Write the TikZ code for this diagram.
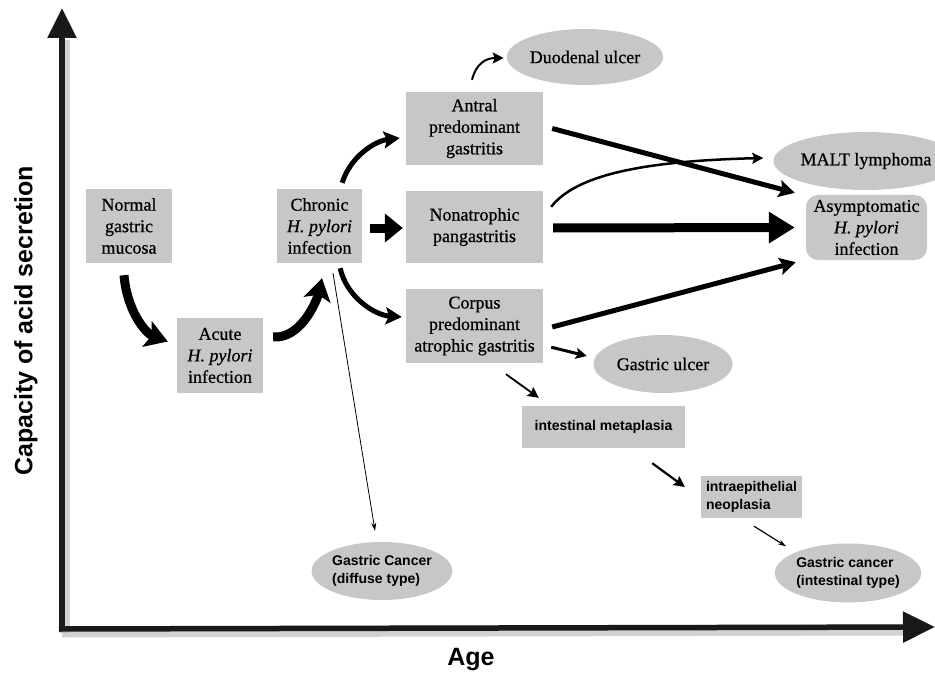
\documentclass[tikz,border=0pt]{standalone}
\usepackage{fontspec}
\setmainfont{Liberation Serif}[FakeBold=0.6]
\setsansfont{Liberation Sans}
\usetikzlibrary{arrows.meta,calc,shapes.geometric}
\definecolor{boxgray}{gray}{0.78}
\tikzset{
  sbox/.style={fill=boxgray, draw=none, align=center, inner sep=0pt,
    font=\fontsize{18}{21.5}\selectfont},
  sell/.style={ellipse, fill=boxgray, draw=none, align=center, inner sep=0pt,
    font=\fontsize{18}{21.5}\selectfont},
  fbox/.style={fill=boxgray, draw=none, inner sep=0pt,
    font=\sffamily\bfseries\fontsize{14}{18}\selectfont},
  fell/.style={ellipse, fill=boxgray, draw=none, align=left, inner sep=0pt,
    font=\sffamily\bfseries\fontsize{14}{18}\selectfont},
  axlabel/.style={font=\sffamily\bfseries\fontsize{25}{30}\selectfont},
  bigarr/.style={line width=9pt, -{Stealth[length=22pt,width=27pt,inset=5pt]}},
  medarr/.style={line width=5pt, -{Stealth[length=16pt,width=17pt,inset=3pt]}},
  smallarr/.style={line width=2.5pt, -{Stealth[length=11pt,width=11pt,inset=2pt]}},
  thinarr/.style={line width=0.8pt, -{Stealth[length=8pt,width=5pt]}},
  axshadow/.style={line width=11pt, draw=black!35, line cap=butt},
  axline/.style={line width=5.5pt, draw=black!90},
}
\begin{document}
\begin{tikzpicture}[x=1pt,y=-1pt]
\useasboundingbox (0,0) rectangle (935,674);
% axes
\coordinate (org) at (62,629);
\coordinate (ytop) at (62,8);
\coordinate (xend) at (935,627);
\draw[axshadow, opacity=0.5] ($(org)+(2,4)$) -- ($(ytop)+(2,32)$);
\draw[axshadow, opacity=0.5] ($(org)+(0,3)$) -- ($(xend)+(-30,3)$);
\draw[axline, -{Triangle[length=30pt,width=28pt]}] ($(org)+(0,2)$) -- (ytop);
\draw[axline, -{Triangle[length=32pt,width=30pt]}] ($(org)+(-3,0)$) -- (xend);
\node[axlabel, rotate=90] (ylab) at (26,321) {Capacity of acid secretion};
\node[axlabel] (xlab) at (471,660) {Age};

% boxes
\node[sbox, minimum width=86pt, minimum height=74pt] (normal) at (129,226) {Normal\\gastric\\mucosa};
\node[sbox, minimum width=86pt, minimum height=75pt] (acute) at (220,355.5) {Acute\\\textit{H. pylori}\\infection};
\node[sbox, minimum width=85pt, minimum height=74pt] (chronic) at (319.5,226) {Chronic\\\textit{H. pylori}\\infection};
\node[sbox, minimum width=137pt, minimum height=73pt] (antral) at (474.5,128.5) {Antral\\predominant\\gastritis};
\node[sbox, minimum width=137pt, minimum height=72pt] (nonatr) at (474.5,227) {Nonatrophic\\pangastritis};
\node[sbox, minimum width=137pt, minimum height=74pt] (corpus) at (474.5,326) {Corpus\\predominant\\atrophic gastritis};
\node[sell, minimum width=140pt, minimum height=56pt] (duod) at (585,57) {Duodenal ulcer};
\node[sell, minimum width=138pt, minimum height=58pt] (malt) at (866,161) {MALT lymphoma};
\node[sbox, rounded corners=12pt, minimum width=121pt, minimum height=65pt] (asym) at (866.5,227.5) {Asymptomatic\\\textit{H. pylori}\\infection};
\node[sell, minimum width=139pt, minimum height=58pt] (ulcer) at (663,364) {Gastric ulcer};
\node[fbox, minimum width=163pt, minimum height=42pt] (im) at (603.5,427) {intestinal metaplasia};
\node[fbox, align=left, minimum width=101pt, minimum height=42pt, text width=91pt] (in) at (751.5,497) {intraepithelial\\neoplasia};
\node[fell, minimum width=140pt, minimum height=58pt] (gcd) at (382,571) {Gastric Cancer\\(diffuse type)};
\node[fell, minimum width=139pt, minimum height=59pt] (gci) at (848,573) {Gastric cancer\\(intestinal type)};

% connectors
\draw[bigarr] ($(normal.south)+(-5,12)$) .. controls +(3,36) and +(-22,-8) .. ($(acute.west)+(-9,-14)$);
\draw[bigarr] ($(acute.east)+(10,-18.5)$) .. controls +(28,2) and +(-5,22) .. ($(chronic.south)+(2.5,15)$);
\draw[medarr] ($(chronic.north east)+(-20,-6)$) .. controls +(8,-26) and +(-25,3) .. ($(antral.west)+(-6,9.5)$);
\draw[bigarr, -{Triangle[length=18pt,width=28pt]}] ($(chronic.east)+(8,2)$) -- ($(nonatr.west)+(-3,1)$);
\draw[medarr] ($(chronic.south east)+(-22,5)$) .. controls +(6,28) and +(-28,-2) .. ($(corpus.west)+(-4,-9)$);
\draw[thinarr] ($(chronic.south)+(13.5,10)$) -- ($(gcd.north)+(-7,-11)$);
\draw[smallarr, line width=2pt] ($(antral.north)+(-2.5,-12)$) .. controls +(4,-16) and +(-18,0) .. ($(duod.west)+(-3,1)$);
\draw[medarr] ($(antral.east)+(9,0)$) -- ($(asym.north west)+(-11,-2)$);
\draw[smallarr] ($(nonatr.north east)+(8,16)$) .. controls +(25,-32) and +(-120,3) .. ($(malt.west)+(-10,-3)$);
\draw[bigarr, -{Triangle[length=26pt,width=30pt]}] ($(nonatr.east)+(10,1)$) -- ($(asym.west)+(-11,0)$);
\draw[medarr] ($(corpus.east)+(9,1)$) -- ($(asym.south west)+(-10,2)$);
\draw[smallarr, line width=3pt] ($(corpus.south east)+(8,-16)$) -- ($(ulcer.west)+(-6.5,-8)$);
\draw[smallarr, line width=1.8pt] ($(corpus.south)+(31.5,11)$) -- ($(im.north west)+(17,-8)$);
\draw[smallarr, line width=2.2pt] ($(im.south east)+(-33,15)$) -- ($(in.west)+(-16,-10)$);
\draw[thinarr, line width=1.2pt] ($(in.south)+(2.5,8)$) -- ($(gci.north)+(-62,3)$);
\end{tikzpicture}
\end{document}
